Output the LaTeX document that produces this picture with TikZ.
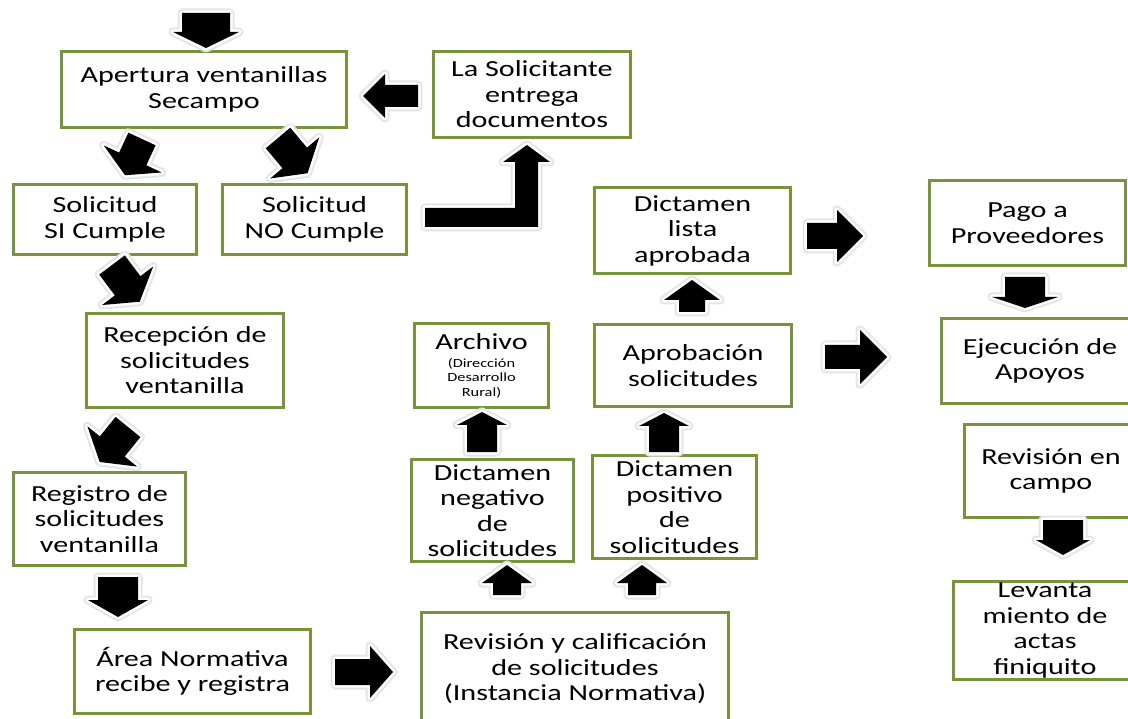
\documentclass[tikz,border=0pt]{standalone}
\usepackage{fontspec}
\setmainfont{Carlito}[FakeStretch=1.31]
\definecolor{boxgreen}{RGB}{119,147,60}
\tikzset{
  box/.style={draw=boxgreen, line width=3pt, fill=white, align=center, inner sep=0pt,
    font=\fontsize{23}{25.5}\selectfont, text=black},
  blockarrow/.style={fill=black,
    preaction={draw=black!10, line width=9pt, line join=round},
    preaction={draw=white, line width=5pt, line join=round}}
}
% #1 tail x, #2 tail y, #3 angle, #4 length, #5 shaft half width, #6 head half width, #7 head length
\newcommand\barrow[7]{%
  \begin{scope}[shift={(#1,#2)},rotate=#3]
    \path[blockarrow] (0,-#5) -- ({#4-#7},-#5) -- ({#4-#7},-#6) -- (#4,0) -- ({#4-#7},#6) -- ({#4-#7},#5) -- (0,#5) -- cycle;
  \end{scope}}
% #1 name, #2 x1, #3 y1, #4 x2, #5 y2, #6 text
\newcommand\bx[6]{%
  \node[box, minimum width={#4-#2-3}, minimum height={#5-#3-3}] (#1) at ({(#2+#4)/2},{(#3+#5)/2}) {#6};}
\newcommand\smallf{\fontsize{12.5}{14}\selectfont}
\begin{document}
\begin{tikzpicture}[x=1pt,y=-1pt]
\useasboundingbox (0,0) rectangle (1128,719);
\clip (0,0) rectangle (1128,719);
\fill[white] (0,0) rectangle (1128,719);

% boxes
\bx{apert}{60}{50}{348}{129}{Apertura ventanillas\\Secampo}
\bx{solic}{432}{50}{632}{139}{La Solicitante\\entrega\\documentos}
\bx{si}{12}{183}{198}{256}{Solicitud\\SI Cumple}
\bx{no}{221}{183}{408}{256}{Solicitud\\NO Cumple}
\bx{recep}{85}{312}{285}{409}{Recepción de\\solicitudes\\ventanilla}
\bx{regis}{12}{471}{187}{567}{Registro de\\solicitudes\\ventanilla}
\bx{area}{73}{628}{312}{715}{Área Normativa\\recibe y registra}
\bx{revis}{420}{611}{730}{727}{Revisión y calificación\\de solicitudes\\(Instancia Normativa)}
\bx{neg}{410}{458}{575}{563}{Dictamen\\negativo\\de\\solicitudes}
\bx{pos}{591}{454}{758}{560}{Dictamen\\positivo\\de\\solicitudes}
\bx{arch}{413}{322}{550}{409}{Archivo\\[-7.5pt]{\smallf (Dirección}\\[-11pt]{\smallf Desarrollo}\\[-11pt]{\smallf Rural)}}
\bx{aprob}{593}{323}{793}{408}{Aprobación\\solicitudes}
\bx{lista}{593}{186}{792}{275}{Dictamen\\lista\\aprobada}
\bx{pago}{928}{179}{1127}{267}{Pago a\\Proveedores}
\bx{ejec}{940}{317}{1140}{405}{Ejecución de\\Apoyos}
\bx{campo}{963}{423}{1139}{519}{Revisión en\\campo}
\bx{levanta}{952}{580}{1138}{681}{Levanta\\miento de\\actas\\finiquito}

% block arrows
\barrow{206}{13}{-90}{35}{24}{33}{16}
\barrow{418}{96}{180}{55}{11}{22}{22}
\barrow{142}{139}{-115}{40}{15}{32}{18}
\barrow{278}{138}{-50}{46}{16}{32}{20}
\barrow{112}{265}{-53}{46}{16}{32}{20}
\barrow{128}{427}{-129}{45}{16}{32}{20}
\barrow{118}{577}{-90}{40}{20}{30}{17}
\barrow{335}{672}{0}{58}{13}{26}{23}
\barrow{507}{595}{90}{30}{14}{25}{18}
\barrow{642}{595}{90}{30}{14}{25}{18}
\barrow{482}{452}{90}{40}{15}{25}{13}
\barrow{664}{452}{90}{39}{15}{25}{13}
\barrow{692}{312}{90}{32}{13}{28}{20}
\barrow{807}{236}{0}{56}{13}{26}{26}
\barrow{825}{357}{0}{62}{12}{27}{27}
\barrow{1025}{277}{-90}{31}{20}{33}{11}
\barrow{1063}{520}{-90}{35}{20}{27}{15}
% bent arrow from NO Cumple up to La Solicitante
\path[blockarrow] (425,208) -- (515,208) -- (515,162) -- (503,162) -- (527,145)
  -- (550,162) -- (538,162) -- (538,227) -- (425,227) -- cycle;
\end{tikzpicture}
\end{document}
